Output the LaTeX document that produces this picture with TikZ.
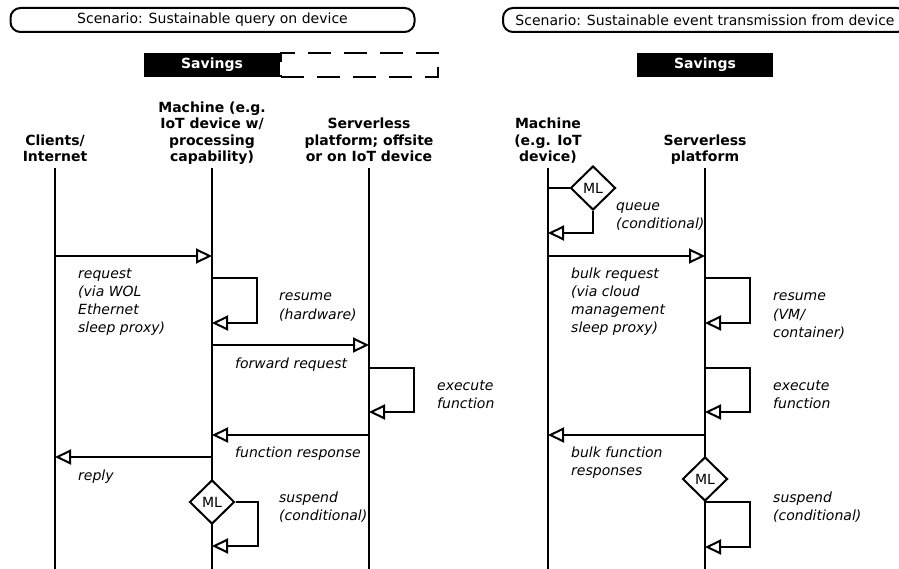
\documentclass[tikz,border=0pt]{standalone}
\usepackage{fontspec}
\setmainfont{DejaVu Sans}
\usepackage{tikz}
\usetikzlibrary{arrows.meta, positioning, shapes.geometric}
\tikzset{
    scenario/.style={rectangle, rounded corners=10pt, draw=black, line width=2pt, minimum width=404pt, minimum height=24pt, inner sep=0pt, font=\fontsize{14}{16}\selectfont},
    savings/.style={rectangle, fill=black, text=white, minimum width=136pt, minimum height=24pt, inner sep=0pt, font=\bfseries\fontsize{14}{16}\selectfont},
    pending/.style={rectangle, draw=black, line width=2pt, dash pattern=on 23pt off 13pt, minimum width=157pt, minimum height=24pt, inner sep=0pt},
    actor/.style={anchor=base, align=center, inner sep=0pt, font=\bfseries\fontsize{14}{16.5}\selectfont},
    note/.style={anchor=base west, align=left, inner sep=0pt, font=\itshape\fontsize{14}{18}\selectfont},
    ml/.style={diamond, draw=black, line width=2pt, fill=white, minimum width=45pt, minimum height=44pt, inner sep=0pt, font=\fontsize{14}{16}\selectfont},
    lifeline/.style={line width=2pt},
    msg/.style={line width=2pt, -{Triangle[open, length=16pt, width=15pt]}}
}

\begin{document}
\begin{tikzpicture}[x=1pt, y=-1pt]
    \useasboundingbox (0,0) rectangle (899,569);

    % Scenario banners and savings bars
    \node[scenario] (scnA) at (212.5,20) {Scenario: Sustainable query on device};
    \node[scenario] (scnB) at (705,20) {Scenario: Sustainable event transmission from device};
    \node[savings] (savA) at (212,65) {Savings};
    \node[pending, right=0pt of savA] (waitA) {};
    \node[savings] (savB) at (705,65) {Savings};

    % Participants: query on device (base = last line)
    \node[actor] (clients) at (55,162) {Clients/\\Internet};
    \node[actor] (machA) at (212,162) {Machine (e.g.\\IoT device w/\\processing\\capability)};
    \node[actor] (srvA) at (369,162) {Serverless\\platform; offsite\\or on IoT device};
    % Participants: event transmission
    \node[actor] (machB) at (548,162) {Machine\\(e.g. IoT\\device)};
    \node[actor] (srvB) at (705,162) {Serverless\\platform};

    % Lifelines
    \coordinate (top) at (0,168);
    \coordinate (bot) at (0,575);
    \foreach \who in {clients, machA, srvA, machB, srvB}
        \draw[lifeline] (\who |- top) -- (\who |- bot);

    % Message rows
    \coordinate (req) at (0,256);
    \coordinate (res1) at (0,278);
    \coordinate (res2) at (0,323);
    \coordinate (fwd) at (0,345);
    \coordinate (exe1) at (0,368);
    \coordinate (exe2) at (0,412);
    \coordinate (rsp) at (0,435);
    \coordinate (rpl) at (0,457);

    % Query on device
    \draw[msg] (clients |- req) -- (machA |- req);
    \node[note] (reqA) at (78,332) {request\\(via WOL\\Ethernet\\sleep proxy)};
    \draw[msg] (machA |- res1) -- ++(45,0) |- (machA |- res2);
    \node[note] (resA) at (279,319) {resume\\(hardware)};
    \draw[msg] (machA |- fwd) -- (srvA |- fwd);
    \node[note] (fwdA) at (235,368) {forward request};
    \draw[msg] (srvA |- exe1) -- ++(45,0) |- (srvA |- exe2);
    \node[note] (exeA) at (437,408) {execute\\function};
    \draw[msg] (srvA |- rsp) -- (machA |- rsp);
    \node[note] (rspA) at (235,457) {function response};
    \draw[msg] (machA |- rpl) -- (clients |- rpl);
    \node[note] (rplA) at (78,480) {reply};
    \node[ml] (mlA) at (212,502) {ML};
    \coordinate (susA) at (0,546);
    \draw[msg] (mlA.east) -- ++(22,0) |- (machA |- susA);
    \node[note] (suspA) at (279,520) {suspend\\(conditional)};

    % Event transmission
    \node[ml] (mlB) at (593,188) {ML};
    \coordinate (que) at (0,233);
    \draw[lifeline] (machB |- mlB) -- (mlB.west);
    \draw[msg] (mlB.south) |- (machB |- que);
    \node[note] (queB) at (616,229) {queue\\(conditional)};
    \draw[msg] (machB |- req) -- (srvB |- req);
    \node[note] (reqB) at (571,332) {bulk request\\(via cloud\\management\\sleep proxy)};
    \draw[msg] (srvB |- res1) -- ++(45,0) |- (srvB |- res2);
    \node[note] (resB) at (773,337) {resume\\(VM/\\container)};
    \draw[msg] (srvB |- exe1) -- ++(45,0) |- (srvB |- exe2);
    \node[note] (exeB) at (773,408) {execute\\function};
    \draw[msg] (srvB |- rsp) -- (machB |- rsp);
    \node[note] (rspB) at (571,475) {bulk function\\responses};
    \node[ml] (mlC) at (705,479) {ML};
    \coordinate (susB) at (0,547);
    \draw[msg] (mlC.south) -- ++(45,0) |- (srvB |- susB);
    \node[note] (suspB) at (773,520) {suspend\\(conditional)};

\end{tikzpicture}
\end{document}
